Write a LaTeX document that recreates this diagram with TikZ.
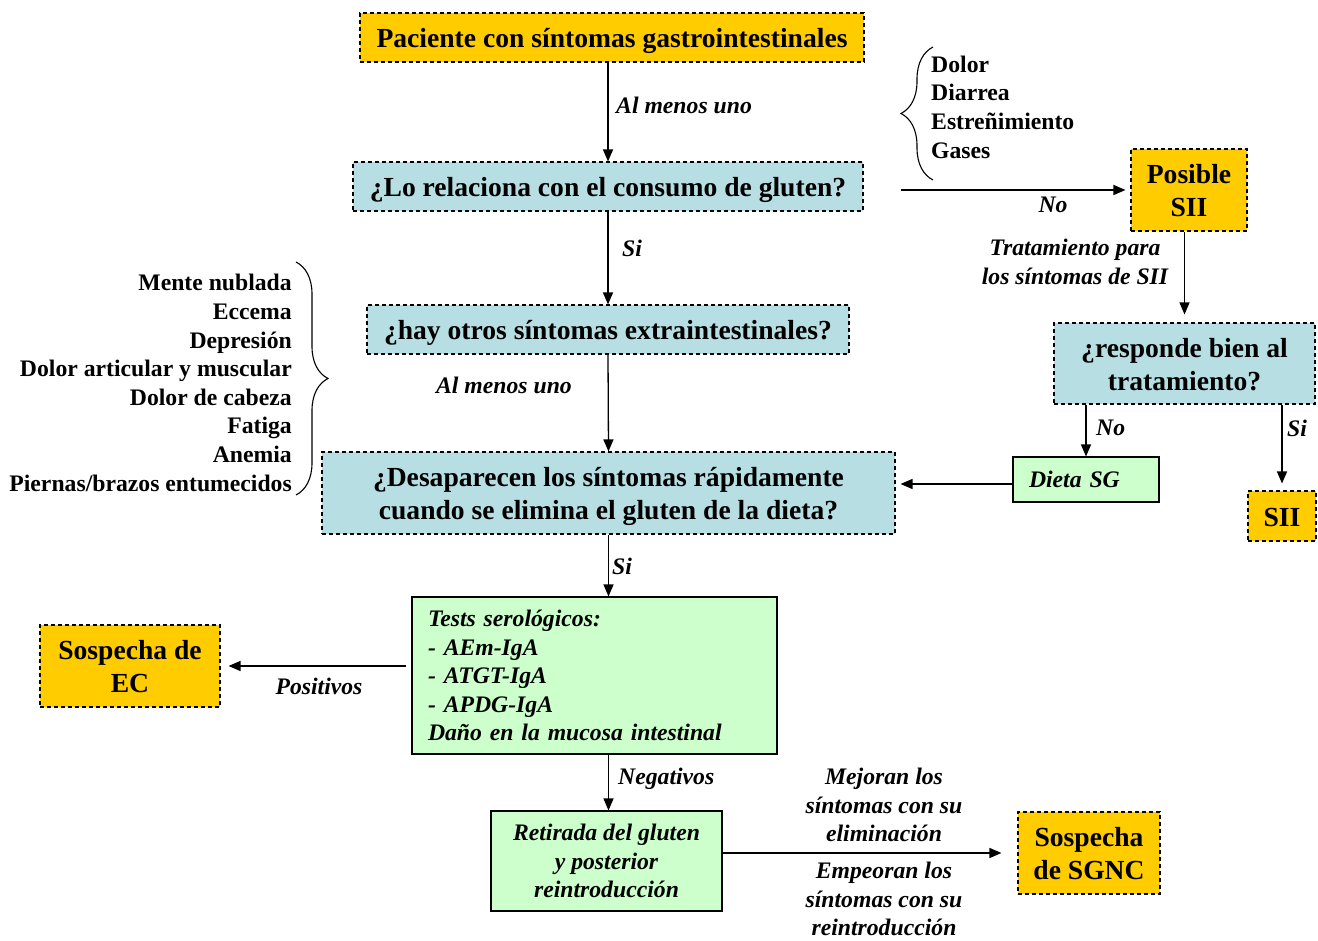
\documentclass[tikz,border=0pt]{standalone}
\usepackage{fontspec}
\setmainfont{Liberation Serif}
\usetikzlibrary{arrows.meta,decorations.pathreplacing}
\definecolor{yel}{HTML}{FFCC00}
\definecolor{blu}{HTML}{B7DFE3}
\definecolor{grn}{HTML}{CCFFCC}
\begin{document}
\begin{tikzpicture}[x=1pt,y=-1pt,
 dbox/.style={draw, line width=1.1pt, dash pattern=on 4pt off 3pt, inner sep=0pt, align=center, font=\fontsize{27.6}{33}\selectfont\bfseries},
 one/.style={text height=26.5pt, text depth=6pt},
 two/.style={text height=59.5pt, text depth=6pt},
 ybox/.style={dbox, fill=yel},
 bbox/.style={dbox, fill=blu},
 gbox/.style={draw, line width=1.1pt, fill=grn, inner sep=0pt, font=\fontsize{23.7}{28.5}\selectfont\bfseries\itshape},
 lab/.style={font=\fontsize{23.7}{28.5}\selectfont\bfseries\itshape, inner sep=0pt},
 lst/.style={font=\fontsize{23.7}{28.6}\selectfont\bfseries, inner sep=0pt},
 arr/.style={line width=1.3pt, -{Triangle[length=12pt,width=10pt]}},
 brc/.style={decorate, decoration={brace, amplitude=32pt}, line width=1.1pt}]
\useasboundingbox (0,0) rectangle (1318,941);
% boxes
\node[ybox, one, minimum width=504pt, minimum height=49pt] (top) at (612,37.5) {Paciente con síntomas gastrointestinales};
\node[bbox, one, minimum width=510pt, minimum height=49pt] (q1) at (608,186.5) {¿Lo relaciona con el consumo de gluten?};
\node[bbox, one, minimum width=482pt, minimum height=49pt] (q2) at (608,329.5) {¿hay otros síntomas extraintestinales?};
\node[bbox, two, minimum width=573pt, minimum height=82pt] (q3) at (608.5,493) {¿Desaparecen los síntomas rápidamente\\cuando se elimina el gluten de la dieta?};
\node[gbox, minimum width=365pt, minimum height=157pt, text width=333pt, align=left] (tests) at (594.5,675.5) {Tests serológicos:\\- AEm-IgA\\- ATGT-IgA\\- APDG-IgA\\Daño en la mucosa intestinal};
\node[ybox, two, minimum width=180pt, minimum height=82pt] (ec) at (130,666) {Sospecha de\\EC};
\node[gbox, minimum width=231pt, minimum height=100pt, align=center] (ret) at (606.5,861) {Retirada del gluten\\y posterior\\reintroducción};
\node[ybox, two, minimum width=142pt, minimum height=82pt] (sgnc) at (1089,853) {Sospecha\\de SGNC};
\node[ybox, two, minimum width=116pt, minimum height=82pt] (pos) at (1189,190) {Posible\\SII};
\node[bbox, two, minimum width=261pt, minimum height=81pt] (resp) at (1184.5,363.5) {¿responde bien al\\tratamiento?};
\node[gbox, minimum width=146pt, minimum height=45pt, text width=114pt, align=left] (dieta) at (1086,479.5) {Dieta SG};
\node[ybox, one, minimum width=68pt, minimum height=50pt] (sii) at (1282,516) {SII};
% lists and braces
\node[lst, anchor=west, align=left] (l1) at (931,107) {Dolor\\Diarrea\\Estreñimiento\\Gases};
\draw[brc] (933,180) -- (933,47);
\node[lst, anchor=east, align=right] (l2) at (292,383) {Mente nublada\\Eccema\\Depresión\\Dolor articular y muscular\\Dolor de cabeza\\Fatiga\\Anemia\\Piernas/brazos entumecidos};
\draw[brc] (296,262) -- (296,495);
% connectors
\draw[arr] (top.south -| q1.north) -- (q1.north);
\node[lab, anchor=west] (a1) at (616,105) {Al menos uno};
\draw[arr] (q1.south) -- (q2.north);
\node[lab, anchor=west] (a2) at (622,248) {Si};
\draw[arr] (q2.south) -- (q3.north);
\node[lab, anchor=east] (a3) at (572,385) {Al menos uno};
\draw[arr] (q3.south) -- (q3.south |- tests.north);
\node[lab, anchor=west] (a4) at (612,566) {Si};
\draw[arr] ([xshift=-5pt]tests.west |- ec.east) -- ([xshift=8pt]ec.east);
\node[lab] (a5) at (319,686) {Positivos};
\draw[arr] (q3.south |- tests.south) -- (q3.south |- ret.north);
\node[lab, anchor=west] (a6) at (618,779) {Negativos};
\draw[arr] (ret.east |- sgnc.west) -- ([xshift=-16pt]sgnc.west);
\node[lab, align=center] (a7) at (884,805) {Mejoran los\\síntomas con su\\eliminación};
\node[lab, align=center] (a8) at (884,899) {Empeoran los\\síntomas con su\\reintroducción};
\draw[arr] ([xshift=37pt]q1.east |- pos.west) -- ([xshift=-5pt]pos.west);
\node[lab] (a9) at (1053,205) {No};
\draw[arr] (resp.north |- pos.south) -- ([yshift=8pt]resp.north);
\node[lab, align=center] (a10) at (1075,262) {Tratamiento para\\los síntomas de SII};
\draw[arr] (dieta.north |- resp.south) -- (dieta.north);
\node[lab, anchor=west] (a11) at (1096,428) {No};
\draw[arr] (sii.north |- resp.south) -- ([yshift=7pt]sii.north);
\node[lab, anchor=west] (a12) at (1287,428) {Si};
\coordinate (dw) at ([yshift=-4.5pt]dieta.west);
\draw[arr] (dw) -- ([xshift=5pt]q3.east |- dw);
\end{tikzpicture}
\end{document}
